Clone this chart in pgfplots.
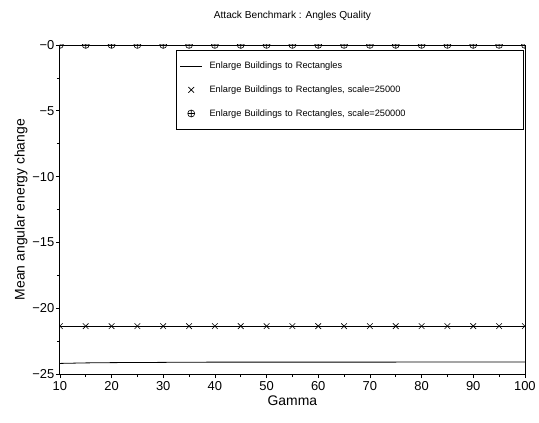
\documentclass[border=0pt]{standalone}
\usepackage{pgfplots}
\pgfplotsset{compat=1.18}
\usepackage{fontspec}
\setmainfont{Liberation Sans}
\begin{document}
\begin{tikzpicture}
\begin{axis}[
  scale only axis,
  width=466bp, height=330bp,
  xmin=10, xmax=100, ymin=-25, ymax=0,
  clip mode=individual, clip marker paths=true,
  xtick={10,20,...,100},
  ytick={-25,-20,-15,-10,-5,0},
  yticklabels={−25,−20,−15,−10,−5,−0},
  minor x tick num=1, minor y tick num=1,
  xtick pos=lower, ytick pos=left,
  tick align=outside,
  major tick length=4bp, minor tick length=3bp,
  tick style={black, line width=0.6pt},
  axis line style={line width=0.8pt},
  ticklabel style={font=\fontsize{13}{15}\selectfont},
  yticklabel style={xshift=2bp},
  /pgf/number format/assume math mode=true,
  xlabel={Gamma}, ylabel={Mean angular energy change},
  label style={font=\fontsize{14}{16}\selectfont},
  xlabel style={yshift=2bp},
  ylabel style={yshift=-2bp},
  title={Attack Benchmark : Angles Quality},
  title style={font=\fontsize{10.2}{12}\selectfont, yshift=15bp},
  legend style={at={(0.249,0.985)}, anchor=north west, font=\fontsize{9.3}{11}\selectfont,
    draw=black, line width=0.6pt, inner xsep=4bp, inner ysep=10bp, row sep=11.5bp,
    legend cell align=left, text width=308bp},
]
\addplot[black, line width=0.8pt,
  legend image code/.code={\draw[black, line width=0.6pt] (0bp,0bp) -- (22bp,0bp); \path (27bp,0bp);}] coordinates {
(10,-24.18) (15,-24.14) (20,-24.12) (25,-24.11) (30,-24.10) (35,-24.09) (40,-24.08)
(45,-24.08) (50,-24.08) (55,-24.08) (60,-24.08) (65,-24.08) (70,-24.08) (75,-24.08)
(80,-24.07) (85,-24.07) (90,-24.07) (95,-24.07) (100,-24.07)};
\addlegendentry{Enlarge Buildings to Rectangles}
\addplot[black, line width=0.6pt, mark=x, mark size=4bp,
  legend image code/.code={\draw[black, line width=0.6pt] plot[mark=x, mark size=4bp] coordinates {(11bp,0bp)}; \path (0bp,0bp) (27bp,0bp);}] coordinates {
(10,-21.35) (15,-21.35) (20,-21.35) (25,-21.35) (30,-21.35) (35,-21.35) (40,-21.35)
(45,-21.35) (50,-21.35) (55,-21.35) (60,-21.35) (65,-21.35) (70,-21.35) (75,-21.35)
(80,-21.35) (85,-21.35) (90,-21.35) (95,-21.35) (100,-21.35)};
\addlegendentry{Enlarge Buildings to Rectangles, scale=25000}
\addplot[black, line width=0.6pt, mark=oplus, mark size=3.5bp,
  legend image code/.code={\draw[black, line width=0.6pt] plot[mark=oplus, mark size=3.5bp] coordinates {(11bp,0bp)}; \path (0bp,0bp) (27bp,0bp);}] coordinates {
(10,0) (15,0) (20,0) (25,0) (30,0) (35,0) (40,0)
(45,0) (50,0) (55,0) (60,0) (65,0) (70,0) (75,0)
(80,0) (85,0) (90,0) (95,0) (100,0)};
\addlegendentry{Enlarge Buildings to Rectangles, scale=250000}
\end{axis}
\path (current axis.south west) ++(-60bp,-48bp) rectangle ++(539bp,423bp);
\end{tikzpicture}
\end{document}
